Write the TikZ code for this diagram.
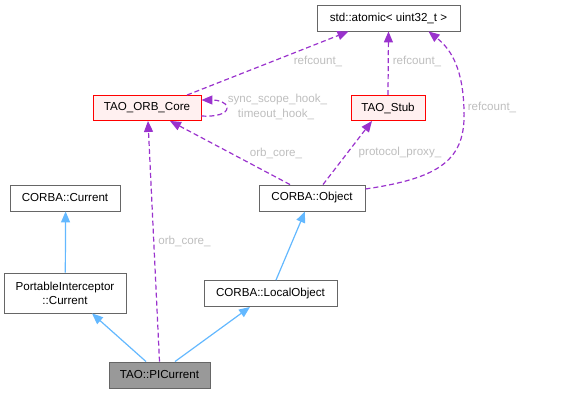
\documentclass[tikz,border=0pt]{standalone}
\usepackage{fontspec}
\setmainfont{Liberation Sans}
\usetikzlibrary{arrows.meta,calc}
\definecolor{edgeblue}{HTML}{63B8FF}
\definecolor{edgepurple}{HTML}{9A32CD}
\definecolor{lblgrey}{HTML}{BEBEBE}
\definecolor{boxgrey}{HTML}{666666}
\definecolor{redfill}{HTML}{FFF0F0}
\tikzset{
  cls/.style={draw=boxgrey, fill=white, line width=0.9pt, inner sep=0pt, align=center,
    font=\fontsize{11.6}{14}\selectfont},
  redcls/.style={cls, draw=red, fill=redfill},
  curcls/.style={cls, fill=black!40},
  inh/.style={draw=edgeblue, line width=1.2pt, -{Triangle[length=11pt,width=9pt]}},
  usage/.style={draw=edgepurple, line width=1.2pt, dash pattern=on 5pt off 3pt,
    -{Triangle[length=11pt,width=9pt]}},
  lbl/.style={text=lblgrey, inner sep=0pt, font=\fontsize{11.6}{14}\selectfont}
}
\begin{document}
\begin{tikzpicture}[x=1pt,y=-1pt]
\useasboundingbox (0,0) rectangle (576,393);
\node[cls, minimum width=143pt, minimum height=26pt] (atomic) at (388.5,18) {std::atomic< uint32\_t >};
\node[redcls, minimum width=108pt, minimum height=25pt] (orb) at (147,108) {TAO\_ORB\_Core};
\node[redcls, minimum width=74pt, minimum height=25pt] (stub) at (388,108) {TAO\_Stub};
\node[cls, minimum width=110pt, minimum height=26pt] (ccur) at (65,198) {CORBA::Current};
\node[cls, minimum width=106pt, minimum height=26pt] (obj) at (312,198) {CORBA::Object};
\node[cls, minimum width=122pt, minimum height=40pt] (picur) at (65,293) {PortableInterceptor\\::Current};
\node[cls, minimum width=133pt, minimum height=26pt] (local) at (270.5,293.5) {CORBA::LocalObject};
\node[curcls, minimum width=101pt, minimum height=26pt] (taocur) at (159.5,375) {TAO::PICurrent};

% inheritance
\draw[inh] ([xshift=-13.5pt]taocur.north) -- ([xshift=27pt]picur.south);
\draw[inh] ([xshift=15.5pt]taocur.north) -- ([xshift=-20.5pt]local.south);
\draw[inh] ([xshift=5.5pt]local.north) -- ([xshift=-7pt]obj.south);
\draw[inh] ([xshift=0.3pt]picur.north) -- ([xshift=0.6pt]ccur.south);

% usage
\draw[usage] (taocur.north) -- ([xshift=1pt]orb.south)
  node[lbl, pos=0.5, anchor=west, xshift=4pt] {orb\_core\_};
\draw[usage] ([xshift=-22pt]obj.north) -- ([xshift=23pt]orb.south);
\node[lbl] (l1) at (276,153) {orb\_core\_};
\draw[usage] ([xshift=11pt]obj.north) -- ([xshift=-16pt]stub.south);
\node[lbl] (l2) at (400,153) {protocol\_proxy\_};
\draw[usage] ([yshift=9pt]obj.east) .. controls (440,178) and (466,160) .. (464,110)
  .. controls (463,70) and (452,50) .. ([xshift=40pt]atomic.south);
\node[lbl] (l3) at (492,107) {refcount\_};
\draw[usage] (stub.north) -- (atomic.south);
\node[lbl] (l4) at (417,61) {refcount\_};
\draw[usage] ([xshift=40pt]orb.north) -- ([xshift=-40pt]atomic.south);
\node[lbl] (l5) at (318,61) {refcount\_};
\draw[usage] ([yshift=-8pt]orb.east) .. controls (215,117) and (227,114) .. (227,108)
  .. controls (227,102) and (218,100) .. ([yshift=8pt]orb.east);
\node[lbl] (l6) at (277.5,100) {sync\_scope\_hook\_};
\node[lbl] (l7) at (276,114) {timeout\_hook\_};
\end{tikzpicture}
\end{document}
